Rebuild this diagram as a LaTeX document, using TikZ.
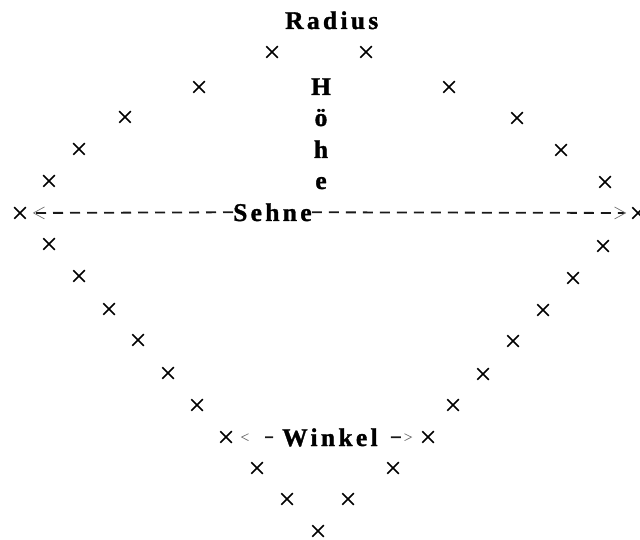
\documentclass[tikz,border=0pt]{standalone}
\usepackage{fontspec}
\setmainfont{Liberation Serif}[LetterSpace=13, BoldFeatures={FakeBold=1.3}]
\usetikzlibrary{shapes.misc,arrows.meta}
\tikzset{
  xm/.style={cross out, draw, line width=1.5pt, minimum size=10pt, inner sep=0pt},
  lbl/.style={font=\fontsize{25.5}{25.5}\selectfont\bfseries, inner sep=0pt},
  sline/.style={draw=black!90, line width=1.8pt, dash pattern=on 10pt off 7pt},
  wline/.style={draw=black!90, line width=1.8pt},
  stip/.style={-{Straight Barb[length=11pt,width=12pt,line width=0.7pt,color=black!55]}},
  wtip/.style={-{Straight Barb[length=7pt,width=7pt,line width=0.7pt,color=black!55]}}
}
\begin{document}
\begin{tikzpicture}[x=1pt,y=-1pt]
\useasboundingbox (0,0) rectangle (640,540);
\foreach \n/\x/\y in {l1/272/52, l2/199/87, l3/125/117, l4/79/149, l5/49/181,
  l6/20/213, l7/49/244, l8/79/276, l9/109/309, l10/138/340, l11/168/373,
  l12/197/405, l13/226/437, l14/257/468, l15/287/499, b/318/531,
  r1/366/52, r2/449/87, r3/517/118, r4/561/150, r5/605/182, r6/638/213,
  r7/603/246, r8/573/278, r9/543/310, r10/513/341, r11/483/374, r12/453/405,
  r13/428/437, r14/393/468, r15/348/499}
  \node[xm] (\n) at (\x,\y) {};
\node[lbl, anchor=base west] (radius) at (285,29) {Radius};
\node[lbl, anchor=base] (h1) at (321,95) {H};
\node[lbl, anchor=base] (h2) at (321,126) {ö};
\node[lbl, anchor=base] (h3) at (321,158) {h};
\node[lbl, anchor=base] (h4) at (321,189) {e};
\node[lbl, anchor=base west] (sehne) at (233,221) {Sehne};
\node[lbl, anchor=base west] (winkel) at (282,446) {Winkel};
\draw[sline, stip, shorten >=7pt] (sehne.west) -- (l6);
\draw[sline, stip, shorten >=6pt] (sehne.east) -- (r6);
\draw[wline, wtip, shorten >=9pt, dash pattern=on 8pt off 40pt, dash phase=39pt] (winkel.west) -- (l13);
\draw[wline, wtip, shorten >=10pt, dash pattern=on 10pt off 40pt, dash phase=37pt] (winkel.east) -- (r13);
\end{tikzpicture}
\end{document}
